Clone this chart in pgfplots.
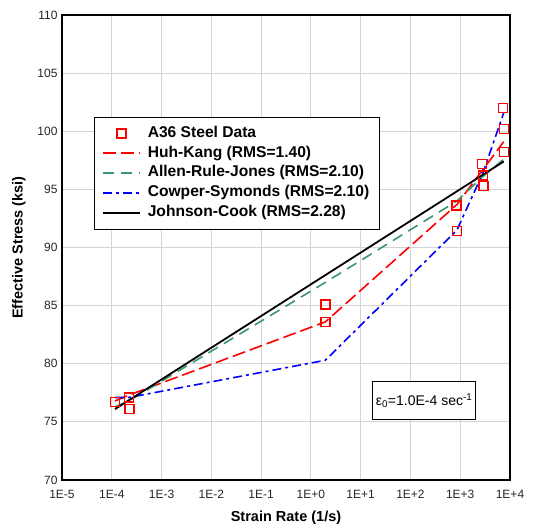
\documentclass[border=0pt]{standalone}
\usepackage{pgfplots}
\pgfplotsset{compat=1.18}
\usepackage{fontspec}
\setmainfont{Liberation Sans}

\definecolor{gridgray}{RGB}{212,212,212}
\definecolor{hkred}{RGB}{255,0,0}
\definecolor{arjgreen}{RGB}{60,150,105}
\definecolor{csblue}{RGB}{0,0,255}

\pgfplotsset{
  linelegend/.style={legend image code/.code={\draw[##1] (0bp,0bp) -- (37bp,0bp);}},
  marklegend/.style={legend image code/.code={\draw[mark repeat=2,mark phase=2,##1] plot coordinates {(0bp,0bp) (18.5bp,0bp) (37bp,0bp)};}},
}

\begin{document}
\begin{tikzpicture}
\begin{axis}[
  width=448bp, height=465bp, scale only axis,
  xmode=log, log basis x=10,
  xmin=1e-5, xmax=1e4, ymin=70, ymax=110,
  xtick={1e-5,1e-4,1e-3,1e-2,1e-1,1,1e1,1e2,1e3,1e4},
  xticklabels={1E-5,1E-4,1E-3,1E-2,1E-1,1E+0,1E+1,1E+2,1E+3,1E+4},
  ytick={70,75,...,110},
  xmajorgrids, xminorgrids, ymajorgrids,
  major grid style={gridgray, line width=0.9bp},
  minor grid style={gridgray, line width=0.9bp},
  axis line style={line width=1.3bp},
  tick style={draw=none},
  ticklabel style={font=\fontsize{12bp}{14bp}\selectfont, text=black!85},
  xticklabel style={yshift=-7bp},
  yticklabel style={xshift=-1bp},
  /pgf/number format/assume math mode=true,
  xlabel={Strain Rate (1/s)}, ylabel={Effective Stress (ksi)},
  label style={font=\bfseries\fontsize{14.5bp}{16bp}\selectfont},
  xlabel style={yshift=-5bp},
  ylabel style={yshift=5bp},
  legend cell align=left,
  legend style={at={(rel axis cs:0.071,0.781)}, anchor=north west,
    draw=black, fill=white,
    font=\bfseries\fontsize{15.6bp}{17bp}\selectfont,
    inner xsep=8bp, inner ysep=6.5bp, row sep=0bp, column sep=5bp,
    nodes={text height=11.8bp, text depth=4bp, inner sep=2bp}},
  linelegend,
]
\addplot[only marks, mark=square, mark size=4.5bp, hkred, line width=1.5bp, marklegend]
  coordinates {
  (1.16e-4,76.7) (2.2e-4,77.1) (2.25e-4,76.1)
  (1.95,85.1) (1.95,83.6)
  (850,93.6) (870,91.4)
  (2750,97.2) (2900,96.2) (2950,95.3)
  (7300,102.0) (7600,100.2) (7600,98.2)
};
\addlegendentry{A36 Steel Data}
\addplot[hkred, line width=1.6bp, dash pattern=on 13bp off 5bp] coordinates {
  (1.16e-4,76.8) (2.2e-4,77.3) (1.95,83.6) (860,93.7) (2850,96.7) (7500,99.1)
};
\addlegendentry{Huh-Kang (RMS=1.40)}
\addplot[arjgreen, line width=1.6bp, dash pattern=on 11bp off 7bp] coordinates {
  (1.16e-4,76.3) (2.2e-4,76.8) (1.95,87.0) (860,94.0) (2850,96.1) (7500,97.6)
};
\addlegendentry{Allen-Rule-Jones (RMS=2.10)}
\addplot[csblue, line width=1.6bp, dash pattern=on 9bp off 4bp on 3bp off 4bp] coordinates {
  (1.16e-4,77.1) (2.2e-4,77.1) (1.95,80.3) (860,91.5) (2850,96.4) (7500,101.6)
};
\addlegendentry{Cowper-Symonds (RMS=2.10)}
\addplot[black, line width=1.8bp] coordinates {
  (1.16e-4,76.1) (7500,97.4)
};
\addlegendentry{Johnson-Cook (RMS=2.28)}
\node[draw=black, line width=0.9bp, fill=white, anchor=north west,
  minimum width=101bp, minimum height=38bp,
  font=\fontsize{14bp}{16bp}\selectfont]
  at (rel axis cs:0.692,0.213) {ε\textsubscript{0}=1.0E-4 sec\textsuperscript{-1}};
\end{axis}
\path ([shift={(-62bp,-45bp)}]current axis.south west)
  rectangle ([shift={(38bp,15bp)}]current axis.north east);
\end{tikzpicture}
\end{document}
